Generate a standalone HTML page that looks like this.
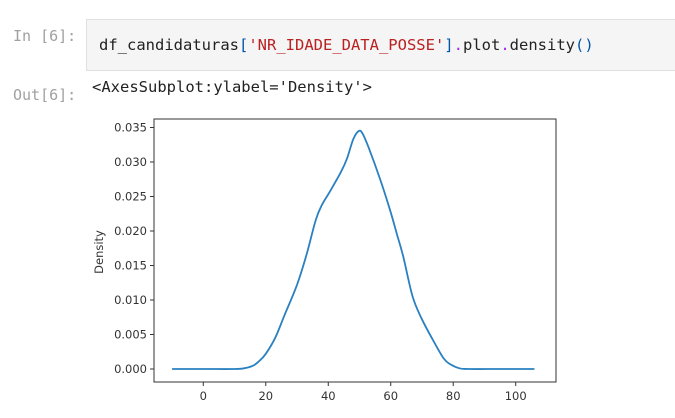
<!DOCTYPE html>
<html><head><meta charset="utf-8"><style>
body{margin:0;width:675px;height:418px;background:#fff;overflow:hidden;position:relative;font-family:"DejaVu Sans Mono","Liberation Mono",monospace}
.p{position:absolute;color:#a0a0a0;font-size:15px}
#cell{position:absolute;left:86px;top:19px;width:595px;height:52px;background:#f5f5f5;border:1px solid #e0e0e0;box-sizing:border-box}
#code{position:absolute;left:12px;top:16px;font-size:15.5px;color:#222;white-space:pre}
#out{position:absolute;left:92px;top:78px;font-size:15.5px;color:#222;white-space:pre}
</style></head><body>
<div class="p" style="left:13px;top:27px">In [6]:</div>
<div id="cell"><div id="code">df_candidaturas<span style="color:#0055aa">[</span><span style="color:#ba2121">'NR_IDADE_DATA_POSSE'</span><span style="color:#0055aa">]</span><span style="color:#aa22ff">.</span>plot<span style="color:#aa22ff">.</span>density<span style="color:#0055aa">()</span></div></div>
<div class="p" style="left:13px;top:86px">Out[6]:</div>
<div id="out">&lt;AxesSubplot:ylabel='Density'&gt;</div>
<svg id="chart" width="675" height="418" style="position:absolute;left:0;top:0"></svg>
<script>
const xs=[-10,0,10,13,16,18,20,23,26,30,33,36,38,40.5,44,46,48,49.8,51,53,56.6,59.8,62,64,67,70,74,77,79,82,85,95,106];
const ys=[0,0,0,0.0001,0.0005,0.0012,0.0022,0.0045,0.0078,0.0122,0.0165,0.0216,0.0238,0.0257,0.0285,0.0305,0.0333,0.0345,0.0341,0.0320,0.0275,0.0230,0.0195,0.0163,0.0105,0.0072,0.0038,0.0015,0.0007,0.0001,0,0,0];
const xTicks=[0,20,40,60,80,100];
const yTicks=[0,0.005,0.01,0.015,0.02,0.025,0.03,0.035];
const yLabels=["0.000","0.005","0.010","0.015","0.020","0.025","0.030","0.035"];
const NS="http://www.w3.org/2000/svg",svg=document.getElementById('chart');
const L=154,R=556,T=119,B=382;
const X=v=>203.3+v*3.124, Y=v=>369-v/0.005*34.5;
function mk(t,a){const e=document.createElementNS(NS,t);for(const k in a)e.setAttribute(k,a[k]);svg.appendChild(e);return e;}
xTicks.forEach(v=>{const l=mk('line',{x1:X(v),x2:X(v),y1:B,y2:B+4,stroke:'#333'});


const t=mk('text',{x:X(v),y:B+18,'text-anchor':'middle','font-size':'11.5','font-family':'DejaVu Sans, sans-serif',fill:'#333'});t.textContent=v;

});
yTicks.forEach((v,i)=>{const l=mk('line',{x1:L-4,x2:L,y1:Y(v),y2:Y(v),stroke:'#333'});


const t=mk('text',{x:L-7,y:Y(v)+4,'text-anchor':'end','font-size':'11.5','font-family':'DejaVu Sans, sans-serif',fill:'#333'});t.textContent=yLabels[i];

});
const yl=mk('text',{x:0,y:0,transform:'translate(103,252) rotate(-90)','text-anchor':'middle','font-size':'11.5','font-family':'DejaVu Sans, sans-serif',fill:'#333'});yl.textContent='Density';


const P=xs.map((x,i)=>[X(x),Y(ys[i])]);
let d='M'+P[0][0]+','+P[0][1];
for(let i=0;i<P.length-1;i++){const p0=P[Math.max(0,i-1)],p1=P[i],p2=P[i+1],p3=P[Math.min(P.length-1,i+2)];
d+=' C'+(p1[0]+(p2[0]-p0[0])/6)+','+(p1[1]+(p2[1]-p0[1])/6)+' '+(p2[0]-(p3[0]-p1[0])/6)+','+(p2[1]-(p3[1]-p1[1])/6)+' '+p2[0]+','+p2[1];}
const c=mk('path',{d:d,fill:'none',stroke:'#2a80c0','stroke-width':'1.8'});


const f=mk('rect',{x:L,y:T,width:R-L,height:B-T,fill:'none',stroke:'#333','stroke-width':'1'});


</script>
</body></html>
